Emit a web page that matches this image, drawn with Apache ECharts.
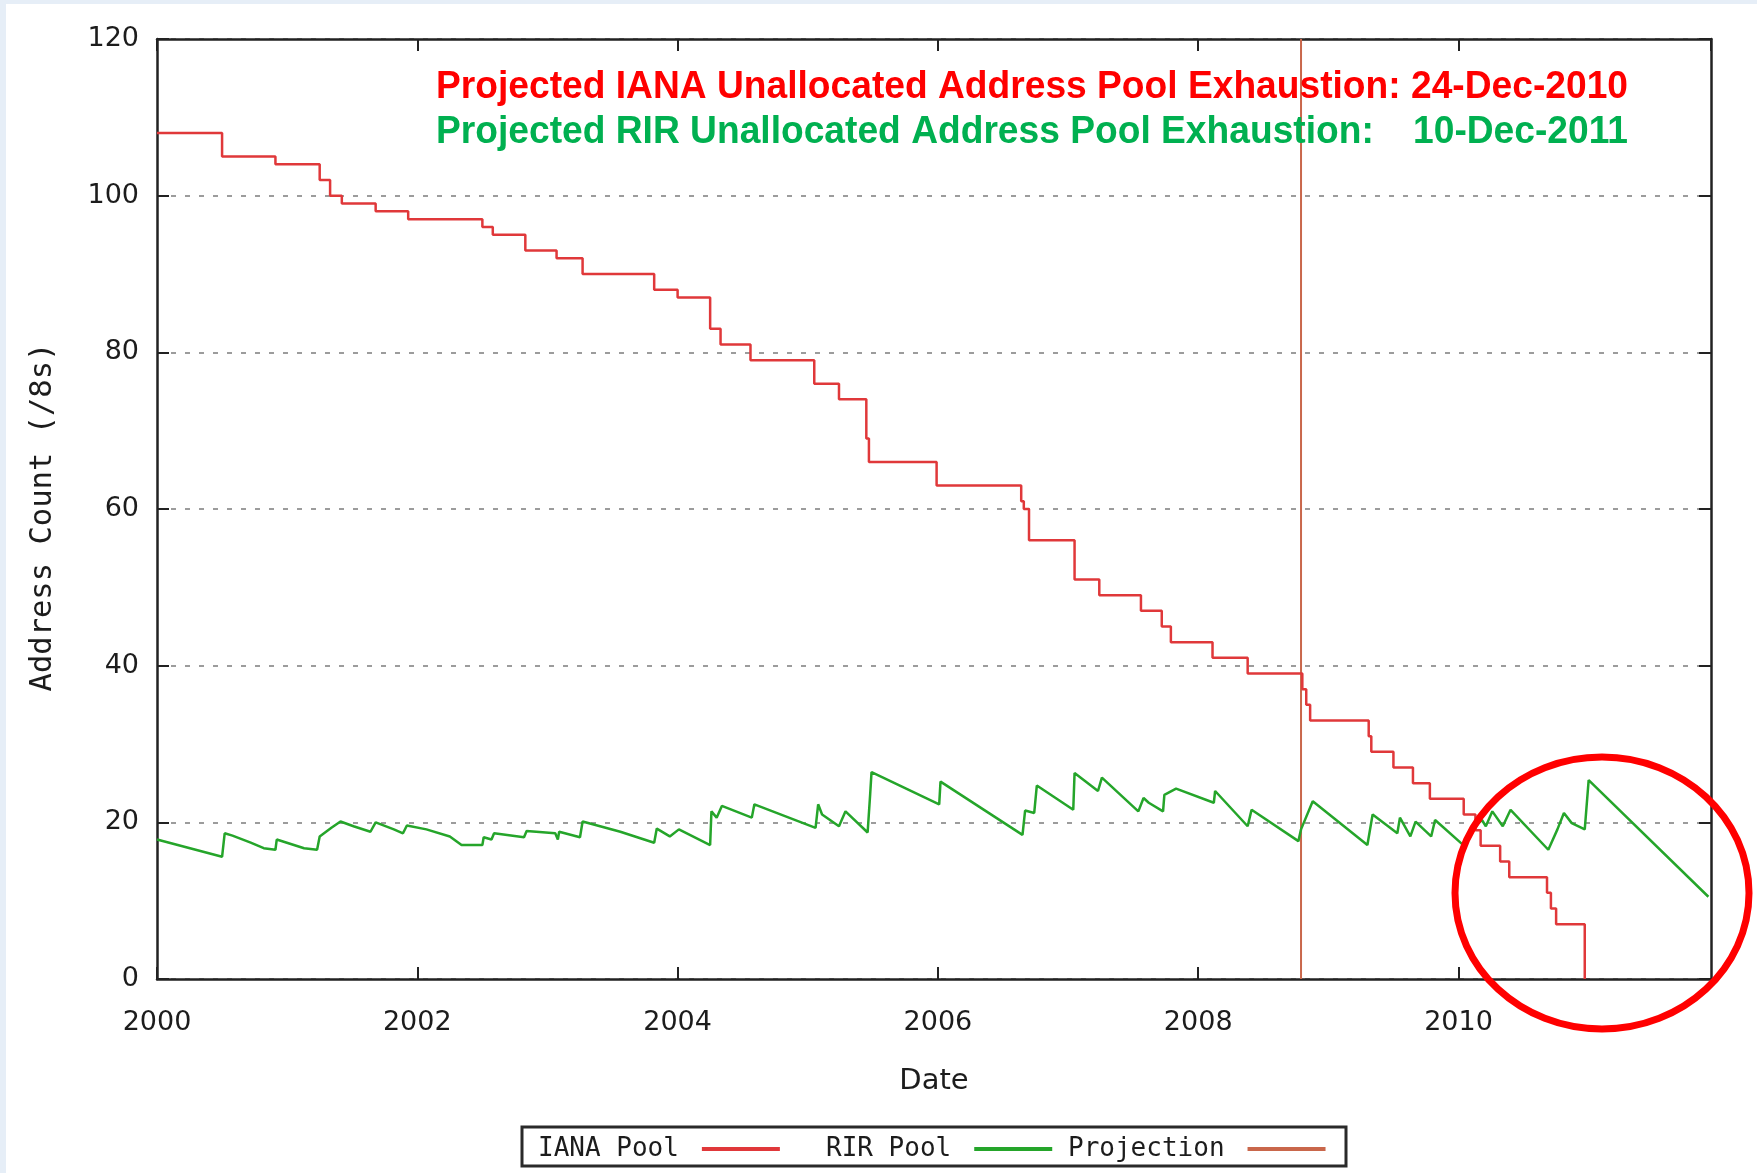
<!DOCTYPE html>
<html>
<head>
<meta charset="utf-8">
<script src="https://cdn.jsdelivr.net/npm/echarts@6/dist/echarts.min.js"></script>
<style>
html,body{margin:0;padding:0;background:#ffffff;}
#chart{width:1757px;height:1173px;}
</style>
</head>
<body>
<div id="chart"></div>
<script>
// ---------- data ----------
const xTickYears = [2000, 2002, 2004, 2006, 2008, 2010];
const yTickValues = [0, 20, 40, 60, 80, 100, 120];
const seriesNames = ['IANA Pool', 'RIR Pool', 'Projection'];

// IANA unallocated pool (step line, value holds from the given date)
const ianaYears = [2000.00, 2000.50, 2000.91, 2001.25, 2001.33, 2001.42, 2001.68, 2001.93,
  2002.50, 2002.58, 2002.83, 2003.07, 2003.27, 2003.82, 2004.00, 2004.25, 2004.33, 2004.56,
  2005.05, 2005.24, 2005.45, 2005.47, 2005.99, 2006.64, 2006.66, 2006.70, 2007.05, 2007.24,
  2007.56, 2007.72, 2007.79, 2008.11, 2008.38, 2008.80, 2008.83, 2008.86, 2009.31, 2009.33,
  2009.50, 2009.65, 2009.78, 2010.04, 2010.13, 2010.17, 2010.32, 2010.39, 2010.68, 2010.71,
  2010.75, 2010.97];
const ianaValues = [108, 105, 104, 102, 100, 99, 98, 97,
  96, 95, 93, 92, 90, 88, 87, 83, 81, 79,
  76, 74, 69, 66, 63, 61, 60, 56, 51, 49,
  47, 45, 43, 41, 39, 37, 35, 33, 31, 29,
  27, 25, 23, 21, 19, 17, 15, 13, 11, 9,
  7, 0];

// RIR unallocated pool
const rirYears = [2000.00, 2000.50, 2000.52, 2000.58, 2000.72, 2000.82, 2000.91, 2000.92, 2001.13,
  2001.23, 2001.25, 2001.34, 2001.41, 2001.51, 2001.64, 2001.68, 2001.82, 2001.89, 2001.92,
  2002.07, 2002.25, 2002.34, 2002.50, 2002.51, 2002.57, 2002.59, 2002.82, 2002.84, 2003.06,
  2003.08, 2003.09, 2003.25, 2003.27, 2003.56, 2003.82, 2003.84, 2003.94, 2004.01, 2004.25,
  2004.26, 2004.30, 2004.34, 2004.57, 2004.59, 2005.06, 2005.08, 2005.11, 2005.24, 2005.29,
  2005.46, 2005.48, 2005.49, 2006.01, 2006.02, 2006.65, 2006.67, 2006.74, 2006.76, 2007.04,
  2007.05, 2007.23, 2007.26, 2007.54, 2007.58, 2007.62, 2007.73, 2007.74, 2007.83, 2008.12,
  2008.13, 2008.38, 2008.41, 2008.77, 2008.79, 2008.88, 2009.30, 2009.34, 2009.53, 2009.55,
  2009.63, 2009.67, 2009.79, 2009.82, 2010.05, 2010.10, 2010.18, 2010.21, 2010.26, 2010.34,
  2010.40, 2010.69, 2010.76, 2010.81, 2010.87, 2010.97, 2011.00, 2011.92];
const rirValues = [17.8, 15.6, 18.6, 18.3, 17.4, 16.7, 16.5, 17.8, 16.7,
  16.5, 18.2, 19.3, 20.1, 19.5, 18.8, 20.0, 19.1, 18.6, 19.6,
  19.1, 18.2, 17.1, 17.1, 18.1, 17.8, 18.6, 18.1, 18.9, 18.6,
  17.8, 18.8, 18.1, 20.1, 18.8, 17.4, 19.2, 18.2, 19.1, 17.1,
  21.4, 20.6, 22.1, 20.6, 22.3, 19.3, 22.3, 21.0, 19.5, 21.4,
  18.7, 23.7, 26.4, 22.3, 25.2, 18.4, 21.5, 21.2, 24.7, 21.6,
  26.3, 24.0, 25.7, 21.4, 23.1, 22.5, 21.4, 23.5, 24.3, 22.5,
  24.0, 19.5, 21.6, 17.6, 19.1, 22.7, 17.1, 21.0, 18.6, 20.6,
  18.2, 20.1, 18.2, 20.3, 16.9, 19.1, 20.3, 19.5, 21.4, 19.5,
  21.6, 16.5, 19.1, 21.2, 19.9, 19.1, 25.4, 10.5];

// Projection marker (vertical line at start of projection)
const projectionYears = [2008.79, 2008.79];
const projectionValues = [0, 120];

const xMin = 2000;
const xMax = 2011.94;

const ianaNote = 'Projected IANA Unallocated Address Pool Exhaustion: 24-Dec-2010';
const rirNoteLabel = 'Projected RIR Unallocated Address Pool Exhaustion:';
const rirNoteDate = '10-Dec-2011';

// ---------- build ----------
const zip = (xs, ys) => xs.map((x, i) => [x, ys[i]]);

const noteFont = '"Liberation Sans", Arial, sans-serif';
const noteSize = 39;
const mctx = document.createElement('canvas').getContext('2d');
mctx.font = 'bold ' + noteSize + 'px ' + noteFont;
const noteScale = 1192 / mctx.measureText(ianaNote).width;

const axisColor = '#222222';
const tickFont = { fontFamily: 'DejaVu Sans', fontSize: 27, color: '#1c1c1c' };
const legendFont = { fontFamily: 'DejaVu Sans Mono', fontSize: 26, color: '#1c1c1c' };

// one legend per key column (gnuplot-style key: text then line sample)
const legendColumnsLeft = [538, 826, 1068];
const legends = seriesNames.map((name, i) => ({
  left: legendColumnsLeft[i], top: 1136, orient: 'horizontal', align: 'right',
  icon: 'rect', itemWidth: 78, itemHeight: 4, padding: 0,
  selectedMode: false,
  textStyle: Object.assign({ padding: [0, 18, 0, 0] }, legendFont),
  data: [name]
}));

const chart = echarts.init(document.getElementById('chart'), null, { renderer: 'canvas' });
chart.setOption({
  animation: false,
  backgroundColor: '#ffffff',
  grid: { left: 157, top: 39, width: 1554, height: 940, containLabel: false },
  xAxis: [
    {
      type: 'value', position: 'bottom', min: xMin, max: xMax, interval: 2,
      name: 'Date', nameLocation: 'middle', nameGap: 88,
      nameTextStyle: { fontFamily: 'DejaVu Sans', fontSize: 29, color: '#1c1c1c' },
      axisLine: { show: true, onZero: false, lineStyle: { color: axisColor, width: 2.5 } },
      axisTick: { show: true, inside: true, length: 12, lineStyle: { color: axisColor, width: 2 } },
      axisLabel: Object.assign({ margin: 30, showMaxLabel: false,
        formatter: v => (xTickYears.indexOf(Math.round(v)) >= 0 && Math.abs(v - Math.round(v)) < 1e-6) ? String(Math.round(v)) : '' }, tickFont),
      splitLine: { show: false }
    },
    {
      type: 'value', position: 'top', min: xMin, max: xMax, interval: 2,
      axisLine: { show: true, onZero: false, lineStyle: { color: axisColor, width: 2.5 } },
      axisTick: { show: true, inside: true, length: 12, lineStyle: { color: axisColor, width: 2 } },
      axisLabel: { show: false },
      splitLine: { show: false }
    }
  ],
  yAxis: [
    {
      type: 'value', position: 'left', min: 0, max: 120, interval: 20,
      name: 'Address Count (/8s)', nameLocation: 'middle', nameGap: 98,
      nameTextStyle: { fontFamily: 'DejaVu Sans Mono', fontSize: 30.5, color: '#1c1c1c', padding: [0, 16, 0, 0] },
      axisLine: { show: true, onZero: false, lineStyle: { color: axisColor, width: 2.5 } },
      axisTick: { show: true, inside: true, length: 12, lineStyle: { color: axisColor, width: 2 } },
      axisLabel: Object.assign({ margin: 18,
        formatter: v => yTickValues.indexOf(v) >= 0 ? String(v) : '' }, tickFont),
      splitLine: { show: true, lineStyle: { color: '#9c9c9c', width: 2, type: [5, 9] } }
    },
    {
      type: 'value', position: 'right', min: 0, max: 120, interval: 20,
      axisLine: { show: true, onZero: false, lineStyle: { color: axisColor, width: 2.5 } },
      axisTick: { show: true, inside: true, length: 12, lineStyle: { color: axisColor, width: 2 } },
      axisLabel: { show: false },
      splitLine: { show: false }
    }
  ],
  legend: legends,
  series: [
    {
      name: seriesNames[0], type: 'line', step: 'end', xAxisIndex: 0, yAxisIndex: 0,
      data: zip(ianaYears, ianaValues), showSymbol: false, symbol: 'none',
      color: '#e0383a', lineStyle: { color: '#e0383a', width: 2.5 }, z: 3
    },
    {
      name: seriesNames[1], type: 'line', xAxisIndex: 0, yAxisIndex: 0,
      data: zip(rirYears, rirValues), showSymbol: false, symbol: 'none',
      color: '#25a52a', lineStyle: { color: '#25a52a', width: 2.5 }, z: 3
    },
    {
      name: seriesNames[2], type: 'line', xAxisIndex: 0, yAxisIndex: 0,
      data: zip(projectionYears, projectionValues), showSymbol: false, symbol: 'none',
      color: '#c9674b', lineStyle: { color: '#c9674b', width: 2 }, z: 2
    }
  ],
  graphic: [
    { type: 'rect', z: 100, shape: { x: 0, y: 0, width: 6, height: 1173 }, style: { fill: '#e6eef7' } },
    { type: 'rect', z: 100, shape: { x: 0, y: 0, width: 1757, height: 4 }, style: { fill: '#e6eef7' } },
    { type: 'rect', z: 0, shape: { x: 522, y: 1127, width: 824, height: 39 },
      style: { fill: '#ffffff', stroke: '#2a2a2a', lineWidth: 3 } },
    { type: 'text', z: 50, x: 436, y: 87, scaleX: noteScale,
      style: { text: ianaNote, fontFamily: noteFont, fontWeight: 'bold', fontSize: noteSize,
        fill: '#ff0000', align: 'left', verticalAlign: 'middle' } },
    { type: 'text', z: 50, x: 436, y: 132, scaleX: noteScale,
      style: { text: rirNoteLabel, fontFamily: noteFont, fontWeight: 'bold', fontSize: noteSize,
        fill: '#00b050', align: 'left', verticalAlign: 'middle' } },
    { type: 'text', z: 50, x: 1628, y: 132, scaleX: noteScale,
      style: { text: rirNoteDate, fontFamily: noteFont, fontWeight: 'bold', fontSize: noteSize,
        fill: '#00b050', align: 'right', verticalAlign: 'middle' } },
    { type: 'ellipse', z: 60, shape: { cx: 1602, cy: 893, rx: 147, ry: 136 },
      style: { fill: 'none', stroke: '#ff0000', lineWidth: 7 } }
  ]
});
</script>
</body>
</html>
